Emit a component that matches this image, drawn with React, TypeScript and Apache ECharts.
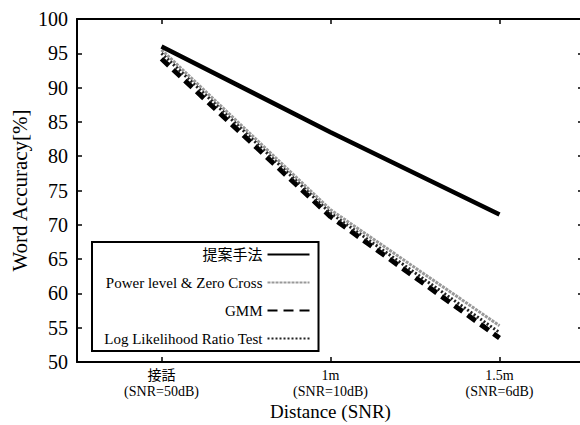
import React, { useEffect, useRef } from "react";
import * as echarts from "echarts";

const categories = ["接話\n(SNR=50dB)", "1m\n(SNR=10dB)", "1.5m\n(SNR=6dB)"];
const proposed = [96, 83.5, 71.5];
const powerZero = [95.5, 72.2, 55.3];
const gmm = [94.2, 71.2, 53.5];
const logLike = [95, 71.7, 54.3];
const seriesNames = ["提案手法", "Power level & Zero Cross", "GMM", "Log Likelihood Ratio Test"];

const FONT = "'Liberation Serif', 'Times New Roman', 'Noto Sans CJK JP', serif";

export default function App() {
  const ref = useRef<HTMLDivElement>(null);
  useEffect(() => {
    if (!ref.current) return;
    const chart = echarts.init(ref.current, null, { renderer: "svg" });
    const tick = { show: true, inside: true, length: 5, alignWithLabel: true, lineStyle: { color: "#000", width: 1.5 } };
    const axisLine = { show: true, lineStyle: { color: "#000", width: 2 } };
    chart.setOption({
      animation: false,
      backgroundColor: "#fff",
      textStyle: { fontFamily: FONT },
      grid: { left: 77, top: 19, width: 507, height: 343, containLabel: false, outerBoundsMode: "none" },
      legend: {
        orient: "vertical",
        align: "right",
        left: 92,
        top: 242,
        padding: [5, 8, 5, 12],
        itemGap: 13,
        itemWidth: 42,
        itemHeight: 14,
        borderColor: "#000",
        borderWidth: 2,
        backgroundColor: "#fff",
        textStyle: { fontFamily: FONT, fontSize: 15, color: "#000" },
        data: seriesNames,
      },
      xAxis: [
        {
          type: "category",
          data: categories,
          boundaryGap: true,
          axisLine,
          axisTick: tick,
          axisLabel: { fontFamily: FONT, fontSize: 14, color: "#000", lineHeight: 16, margin: 5 },
          name: "Distance (SNR)",
          nameLocation: "middle",
          nameGap: 40,
          nameMoveOverlap: false,
          nameTextStyle: { fontFamily: FONT, fontSize: 19, color: "#000" },
          splitLine: { show: false },
        },
        {
          type: "category",
          data: categories,
          position: "top",
          boundaryGap: true,
          axisLine,
          axisTick: tick,
          axisLabel: { show: false },
          splitLine: { show: false },
        },
      ],
      yAxis: [
        {
          type: "value",
          min: 50,
          max: 100,
          interval: 5,
          axisLine,
          axisTick: { show: true, inside: true, length: 5, lineStyle: { color: "#000", width: 1.5 } },
          axisLabel: { fontFamily: FONT, fontSize: 20, color: "#000", margin: 9 },
          splitLine: { show: false },
          name: "Word Accuracy[%]",
          nameLocation: "middle",
          nameRotate: 90,
          nameGap: 47,
          nameMoveOverlap: false,
          nameTextStyle: { fontFamily: FONT, fontSize: 21, color: "#000" },
        },
        {
          type: "value",
          min: 50,
          max: 100,
          interval: 5,
          position: "right",
          axisLine: { show: false },
          axisTick: { show: true, inside: true, length: 6, lineStyle: { color: "#000", width: 1.5 } },
          axisLabel: { show: false },
          splitLine: { show: false },
        },
      ],
      series: [
        {
          name: seriesNames[0],
          type: "line",
          data: proposed,
          symbol: "none",
          lineStyle: { color: "#000", width: 4.5 },
          itemStyle: { color: "#000", opacity: 0 },
          z: 5,
        },
        {
          name: seriesNames[1],
          type: "line",
          data: powerZero,
          symbol: "none",
          lineStyle: { color: "#999", width: 3, type: [3, 1] },
          itemStyle: { color: "#999", opacity: 0 },
          z: 3,
        },
        {
          name: seriesNames[2],
          type: "line",
          data: gmm,
          symbol: "none",
          lineStyle: { color: "#000", width: 5, type: [10, 6] },
          itemStyle: { color: "#000", opacity: 0 },
          z: 4,
        },
        {
          name: seriesNames[3],
          type: "line",
          data: logLike,
          symbol: "none",
          lineStyle: { color: "#222", width: 3, type: [2, 2] },
          itemStyle: { color: "#222", opacity: 0 },
          z: 4,
        },
      ],
    });
    return () => chart.dispose();
  }, []);
  return (
    <div
      ref={ref}
      style={{ position: "absolute", left: 0, top: 0, width: 580, height: 425, background: "#fff" }}
    />
  );
}
